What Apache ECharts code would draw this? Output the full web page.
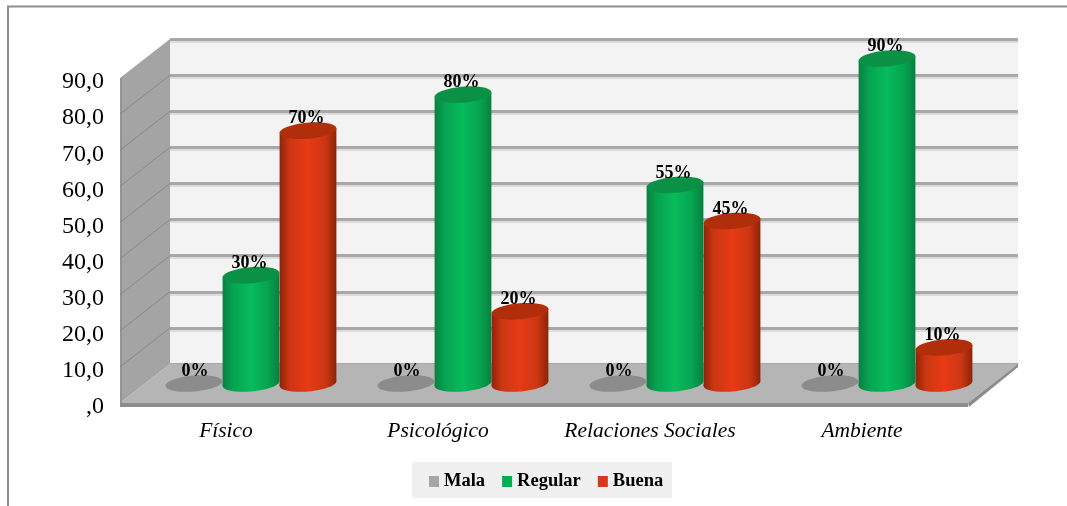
<!DOCTYPE html>
<html>
<head>
<meta charset="utf-8">
<style>html,body{margin:0;padding:0;background:#fff}#chart{width:1067px;height:506px}</style>
<script src="https://cdn.jsdelivr.net/npm/echarts@6/dist/echarts.min.js"></script>
</head>
<body>
<div id="chart"></div>
<script>
const categories = ['Físico', 'Psicológico', 'Relaciones Sociales', 'Ambiente'];
const mala = [0, 0, 0, 0];
const regular = [30, 80, 55, 90];
const buena = [70, 20, 45, 10];
const yTicks = [0, 10, 20, 30, 40, 50, 60, 70, 80, 90];

// Depth of the box in pixels: how far the back wall sits from the front plane.
const DX = 50, DY = -39;
const BAR_W = 57, RY = 8, TILT = 5 * Math.PI / 180;
const SERIF = '"Liberation Serif", "Times New Roman", serif';

function sideGradient(edgeL, mid, bright, edgeR) {
  return { type: 'linear', x: 0, y: 0, x2: 1, y2: 0, colorStops: [
    { offset: 0, color: edgeL }, { offset: 0.18, color: mid },
    { offset: 0.5, color: bright }, { offset: 0.8, color: mid },
    { offset: 1, color: edgeR } ] };
}

// One cylinder: body, lower cap, upper cap and its percentage label.
function cylinderSeries(name, values, slot, legendColor, body, cap) {
  return {
    type: 'custom', name, xAxisIndex: 0, yAxisIndex: 0, z: 5 + slot,
    itemStyle: { color: legendColor },
    data: values.map((v, i) => [i, v]),
    encode: { x: 0, y: 1 },
    renderItem(params, api) {
      const base = api.coord([api.value(0), 0]);
      const top = api.coord([api.value(0), api.value(1)]);
      const cx = base[0] + DX / 2 + slot * BAR_W;
      const by = base[1] + DY / 2;
      const ty = top[1] + DY / 2;
      const rx = BAR_W / 2;
      const ox = rx * Math.cos(TILT), oy = rx * Math.sin(TILT);
      const children = [];
      const ellipse = (y, fill) => ({
        type: 'ellipse', x: cx, y, rotation: TILT,
        shape: { cx: 0, cy: 0, rx, ry: RY }, style: { fill }
      });
      if (api.value(1) > 0) {
        children.push(ellipse(by, body));
        children.push({
          type: 'polygon',
          shape: { points: [[cx - ox, ty + oy], [cx + ox, ty - oy], [cx + ox, by - oy], [cx - ox, by + oy]] },
          style: { fill: body }
        });
      }
      children.push(ellipse(ty, cap));
      children.push({
        type: 'text', x: cx + (slot < 0 ? 1 : -1.5), y: ty - 12,
        style: { text: api.value(1) + '%', font: 'bold 18px ' + SERIF, fill: '#000',
          align: 'center', verticalAlign: 'middle' }
      });
      return { type: 'group', children };
    }
  };
}

// Side wall and floor of the box, plus the wall's receding grid lines.
const boxSeries = {
  type: 'custom', xAxisIndex: 0, yAxisIndex: 0, z: 1, silent: true,
  data: [[0]],
  renderItem(params, api) {
    const x0 = api.coord([0, 0]);
    const left = params.coordSys.x, right = left + params.coordSys.width;
    const yBase = x0[1], yTop = api.coord([0, 90])[1];
    const kids = [
      { type: 'polygon', shape: { points: [[left, yTop], [left + DX, yTop + DY], [left + DX, yBase + DY], [left, yBase]] },
        style: { fill: '#a4a4a4' } },
      { type: 'polygon', shape: { points: [[left, yBase], [left + DX, yBase + DY], [right + DX, yBase + DY], [right, yBase]] },
        style: { fill: '#b5b5b5' } },
      { type: 'polygon', shape: { points: [[left, yBase], [right, yBase], [right, yBase + 4], [left, yBase + 4]] },
        style: { fill: '#8c8c8c' } },
      { type: 'polygon', shape: { points: [[right, yBase], [right + DX, yBase + DY], [right + DX, yBase + DY + 3], [right + 1, yBase + 4]] },
        style: { fill: '#8c8c8c' } },
      { type: 'line', shape: { x1: left + 1, y1: yTop, x2: left + 1, y2: yBase }, style: { stroke: '#949494', lineWidth: 2 } }
    ];
    yTicks.slice(1, -1).forEach(t => {
      const y = api.coord([0, t])[1];
      kids.push({ type: 'line', shape: { x1: left, y1: y, x2: left + DX, y2: y + DY }, style: { stroke: '#888888', lineWidth: 1 } });
    });
    return { type: 'group', children: kids };
  }
};

const chart = echarts.init(document.getElementById('chart'), null, { renderer: 'canvas' });
chart.setOption({
  animation: false,
  backgroundColor: '#fff',
  // Frame along the top and left of the chart area.
  graphic: [
    { type: 'polyline', silent: true, shape: { points: [[8, 506], [8, 6.5], [1067, 6.5]] },
      style: { stroke: '#8e8e8e', lineWidth: 2, fill: null } }
  ],
  legend: {
    left: 412, top: 462, padding: [10, 9, 7, 17],
    backgroundColor: '#f0f0f0', itemWidth: 10, itemHeight: 11, itemGap: 17,
    icon: 'rect', selectedMode: false,
    textStyle: { fontFamily: SERIF, fontWeight: 'bold', fontSize: 18.5, color: '#000' },
    data: ['Mala', 'Regular', 'Buena']
  },
  grid: [
    { left: 120, width: 848, top: 78, height: 325 },
    { left: 120 + DX, width: 848, top: 78 + DY, height: 325, show: true, backgroundColor: '#f3f3f4', borderWidth: 0 }
  ],
  xAxis: [
    { type: 'category', gridIndex: 0, data: categories, axisLine: { show: false }, axisTick: { show: false },
      axisLabel: { margin: 17, fontFamily: SERIF, fontStyle: 'italic', fontSize: 21.5, color: '#000', interval: 0 } },
    { type: 'category', gridIndex: 1, data: categories, show: false }
  ],
  yAxis: [
    { type: 'value', gridIndex: 0, min: 0, max: 90, interval: 10, splitLine: { show: false },
      axisLine: { show: false }, axisTick: { show: false },
      axisLabel: { margin: 16, fontFamily: SERIF, fontSize: 24, color: '#000', verticalAlign: 'top', lineHeight: 8,
        formatter: v => v === 0 ? ',0' : v.toFixed(1).replace('.', ',') } },
    { type: 'value', gridIndex: 1, min: 0, max: 90, interval: 10, axisLine: { show: false }, axisTick: { show: false },
      axisLabel: { show: false },
      splitLine: { show: true, lineStyle: { color: '#a8a8a8', width: 3, shadowColor: '#dcdcdc', shadowOffsetY: 2 } } }
  ],
  series: [
    boxSeries,
    cylinderSeries('Mala', mala, -1, '#a6a6a6', '#8c8c8c', '#8c8c8c'),
    cylinderSeries('Regular', regular, 0, '#00b050',
      sideGradient('#0a7f41', '#06a350', '#08bb5c', '#07803f'), '#0a9146'),
    cylinderSeries('Buena', buena, 1, '#d9381a',
      sideGradient('#8f2408', '#cc3713', '#e83a16', '#8c2408'), '#b02f0a')
  ]
});
</script>
</body>
</html>
